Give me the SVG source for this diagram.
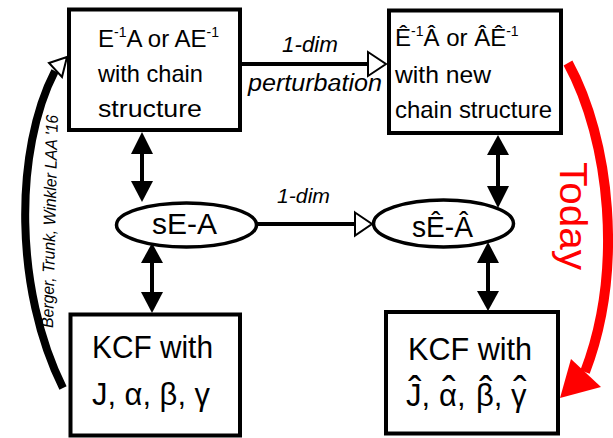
<svg xmlns="http://www.w3.org/2000/svg" width="613" height="438" viewBox="0 0 613 438">
<style>
.box{fill:#fff;stroke:#000;stroke-width:4}
.ell{fill:#fff;stroke:#000;stroke-width:3.5}
.t{font-family:"Liberation Sans",Arial,sans-serif;fill:#000}
.it{font-family:"Liberation Sans",Arial,sans-serif;font-style:italic;fill:#000}
.ln{stroke:#000;stroke-width:4;fill:none}
.ah{fill:#000}
.oh{fill:#fff;stroke:#000;stroke-width:2}
.hat{font-size:40px;text-anchor:middle}
</style>
<g id="connectors">
  <line class="ln" x1="241" y1="64" x2="368" y2="64"/>
  <polygon class="oh" points="368,52 386,64 368,76"/>
  <line class="ln" x1="257" y1="224" x2="355" y2="224"/>
  <polygon class="oh" points="355,212.5 372,224 355,235.5"/>
  <line class="ln" x1="142" y1="150" x2="142" y2="185"/>
  <polygon class="ah" points="142,132 131,154 153,154"/>
  <polygon class="ah" points="142,202 131,181 153,181"/>
  <line class="ln" x1="152" y1="260" x2="152" y2="295"/>
  <polygon class="ah" points="152,243 141,263 163,263"/>
  <polygon class="ah" points="152,313 141,292 163,292"/>
  <line class="ln" x1="498" y1="150" x2="498" y2="190"/>
  <polygon class="ah" points="498,135 487,155 509,155"/>
  <polygon class="ah" points="498,208 487,186 509,186"/>
  <line class="ln" x1="488" y1="260" x2="488" y2="294"/>
  <polygon class="ah" points="488,242 477,263 499,263"/>
  <polygon class="ah" points="488,311 477,291 499,291"/>
  <path d="M 63 388 C 14 290, 14 150, 55 71" fill="none" stroke="#000" stroke-width="8"/>
  <polygon class="oh" points="67,57 49,63 62,77"/>
  <path d="M 568 63 C 610 140, 624 270, 585 372" fill="none" stroke="#ff0000" stroke-width="10"/>
  <polygon points="560,398 571,359 601,387" fill="#ff0000"/>
</g>
<g id="label-berger">
  <text class="it" font-size="17" transform="translate(53,328) rotate(-88.7)" textLength="213" lengthAdjust="spacingAndGlyphs">Berger, Trunk, Winkler LAA '16</text>
</g>
<g id="label-today">
  <text class="t" font-size="39" style="fill:#ff0000" transform="translate(560,162) rotate(90)" textLength="108" lengthAdjust="spacingAndGlyphs">Today</text>
</g>
<g id="label-top">
  <text class="it" font-size="22" x="282" y="52" textLength="56" lengthAdjust="spacingAndGlyphs">1-dim</text>
  <text class="it" font-size="23" x="248" y="91" textLength="134" lengthAdjust="spacingAndGlyphs">perturbation</text>
</g>
<g id="label-mid">
  <text class="it" font-size="21" x="277" y="203" textLength="53" lengthAdjust="spacingAndGlyphs">1-dim</text>
</g>
<g id="node-tl">
  <rect class="box" x="69" y="9.5" width="171" height="120.5"/>
  <text class="t" font-size="24" x="98" y="47">E<tspan font-size="14" dy="-10">-1</tspan><tspan dy="10">A or AE</tspan><tspan font-size="14" dy="-10">-1</tspan></text>
  <text class="t" font-size="24" x="98" y="82" textLength="105" lengthAdjust="spacingAndGlyphs">with chain</text>
  <text class="t" font-size="24" x="98" y="117" textLength="104" lengthAdjust="spacingAndGlyphs">structure</text>
</g>
<g id="node-tr">
  <rect class="box" x="389" y="10.5" width="172" height="122.5"/>
  <text class="t" font-size="24" x="395" y="46">Ê<tspan font-size="14" dy="-10">-1</tspan><tspan dy="10">Â or ÂÊ</tspan><tspan font-size="14" dy="-10">-1</tspan></text>
  <text class="t" font-size="24" x="395" y="83" textLength="96" lengthAdjust="spacingAndGlyphs">with new</text>
  <text class="t" font-size="24" x="395" y="118" textLength="157" lengthAdjust="spacingAndGlyphs">chain structure</text>
</g>
<g id="node-sea">
  <ellipse class="ell" cx="186.5" cy="225" rx="70" ry="22"/>
  <text class="t" font-size="30" x="152" y="234" textLength="65" lengthAdjust="spacingAndGlyphs">sE-A</text>
</g>
<g id="node-sea-hat">
  <ellipse class="ell" cx="443.5" cy="223.5" rx="70" ry="23.5"/>
  <text class="t" font-size="30" x="412" y="237" textLength="61" lengthAdjust="spacingAndGlyphs">sÊ-Â</text>
</g>
<g id="node-bl">
  <rect class="box" x="70.5" y="314.5" width="169.5" height="121"/>
  <text class="t" font-size="31" x="92" y="358" textLength="121" lengthAdjust="spacingAndGlyphs">KCF with</text>
  <text class="t" font-size="31" x="92" y="405" textLength="118" lengthAdjust="spacingAndGlyphs">J, α, β, γ</text>
</g>
<g id="node-br">
  <rect class="box" x="386" y="312" width="172" height="121.5"/>
  <text class="t" font-size="31" x="408" y="360" textLength="124" lengthAdjust="spacingAndGlyphs">KCF with</text>
  <text class="t" font-size="31"><tspan x="406" y="406">J,</tspan><tspan x="439" y="406">α,</tspan><tspan x="476" y="406">β,</tspan><tspan x="511" y="406">γ</tspan><tspan class="hat" x="415" y="405">ˆ</tspan><tspan class="hat" x="449" y="405">ˆ</tspan><tspan class="hat" x="486" y="405">ˆ</tspan><tspan class="hat" x="520" y="405">ˆ</tspan></text>
</g>
</svg>
